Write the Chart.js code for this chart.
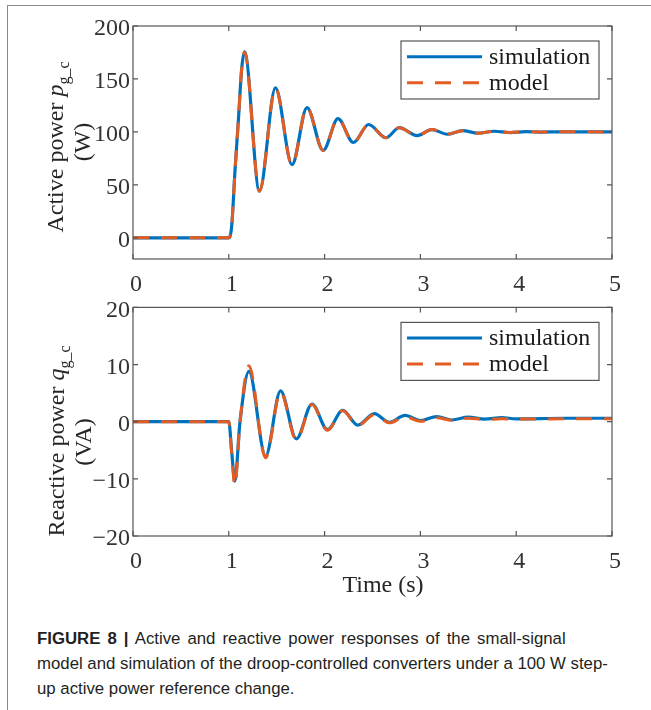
<!DOCTYPE html>
<html><head><meta charset="utf-8">
<script src="https://cdn.jsdelivr.net/npm/chart.js@4.4.0/dist/chart.umd.min.js"></script>
<style>
html,body{margin:0;padding:0;background:#fff;width:651px;height:710px;overflow:hidden;}
#frame{position:absolute;left:7px;top:5px;width:700px;height:800px;border-left:1.5px solid #8a8a8a;border-top:1.5px solid #8a8a8a;}
.cv{position:absolute;left:0;}
.lab{position:absolute;font-family:"Liberation Serif","Times New Roman",serif;font-size:24px;color:#262626;white-space:nowrap;line-height:1;}
.ylab{transform:translate(-50%,-50%) rotate(-90deg);}
.xlab{transform:translate(-50%,-50%);}
.lab sub{font-size:16px;vertical-align:-6px;line-height:0;}
#caption{position:absolute;left:37px;top:626px;font-family:"Liberation Sans",Arial,sans-serif;font-size:16.8px;line-height:25px;color:#231f20;white-space:nowrap;}
#caption .l1{word-spacing:2.4px;}
</style>
</head><body>
<div id="frame"></div>
<canvas id="c1" class="cv" width="651" height="300" style="top:0px"></canvas>
<canvas id="c2" class="cv" width="651" height="320" style="top:290px"></canvas>
<div class="lab ylab" style="left:55px;top:147px">Active power <i>p</i><sub>g_c</sub></div>
<div class="lab ylab" style="left:82px;top:142px">(W)</div>
<div class="lab ylab" style="left:56px;top:441px">Reactive power <i>q</i><sub>g_c</sub></div>
<div class="lab ylab" style="left:83px;top:442px">(VA)</div>
<div class="lab xlab" style="left:383px;top:584px">Time (s)</div>
<div id="caption"><span class="l1"><b>FIGURE 8 |</b> Active and reactive power responses of the small-signal</span><br>model and simulation of the droop-controlled converters under a 100 W step-<br>up active power reference change.</div>
<script>
// ---- data ----
const seriesLabels = ["simulation", "model"];
const xTicks = [0, 1, 2, 3, 4, 5];
const activeTicks = [0, 50, 100, 150, 200];
const reactiveTicks = [-20, -10, 0, 10, 20];

const activeTime = [0, 0.5, 1.0, 1.03, 1.065, 1.10, 1.135, 1.165, 1.32, 1.487, 1.66, 1.816, 1.985, 2.14, 2.30, 2.46, 2.64, 2.78, 2.965, 3.12, 3.28, 3.44, 3.60, 3.77, 3.94, 4.10, 4.27, 4.45, 5.0];
const activeSim   = [0, 0, 0, 11, 64, 111, 160, 175.5, 44, 141.5, 69, 123, 82.5, 112.5, 90, 107, 94.5, 104, 96.5, 102.2, 97.8, 101.2, 98.8, 100.6, 99.4, 100.3, 99.8, 100.1, 100];
const activeModel = [0, 0, 0, 11, 64, 111, 160, 175.5, 44, 141.5, 69, 123, 82.5, 112.5, 90, 107, 94.5, 104, 96.5, 102.2, 97.8, 101.2, 98.8, 100.6, 99.4, 100.3, 99.8, 100.1, 100];

const reactiveTime  = [0, 0.5, 1.0, 1.03, 1.063, 1.117, 1.21, 1.384, 1.54, 1.705, 1.869, 2.03, 2.19, 2.345, 2.52, 2.675, 2.84, 3.0, 3.17, 3.33, 3.5, 3.67, 3.85, 4.0, 4.5, 5.0];
const reactiveSim   = [0, 0, 0, -5.2, -10.4, 0, 8.8, -6.0, 5.4, -3.0, 3.1, -1.4, 2.0, -0.6, 1.4, -0.1, 1.1, 0.2, 0.9, 0.3, 0.8, 0.45, 0.7, 0.5, 0.6, 0.6];
const reactiveModel = [0, 0, 0, -5.6, -11.2, 0, 9.8, -6.3, 5.2, -3.2, 3.0, -1.5, 1.9, -0.7, 1.25, -0.2, 0.85, 0.06, 0.68, 0.25, 0.6, 0.4, 0.5, 0.45, 0.5, 0.5];

// ---- styles ----
const BLUE = "#0072BD", ORANGE = "#E35D22", AXIS = "#555555", TICKTXT = "#333333";
const SERIF = '"Liberation Serif","Times New Roman",serif';

function pts(xs, ys) { return xs.map((x, i) => ({ x: x, y: ys[i] })); }

const boxPlugin = {
  id: "matlabBox",
  afterDatasetsDraw(chart) {
    const ctx = chart.ctx, a = chart.chartArea;
    const xs = chart.scales.x, ys = chart.scales.y;
    ctx.save();
    ctx.strokeStyle = AXIS; ctx.lineWidth = 1.2;
    ctx.strokeRect(a.left, a.top, a.right - a.left, a.bottom - a.top);
    const L = 5;
    ctx.beginPath();
    xs.ticks.forEach(t => {
      const px = xs.getPixelForValue(t.value);
      ctx.moveTo(px, a.bottom); ctx.lineTo(px, a.bottom - L);
      ctx.moveTo(px, a.top); ctx.lineTo(px, a.top + L);
    });
    ys.ticks.forEach(t => {
      const py = ys.getPixelForValue(t.value);
      ctx.moveTo(a.left, py); ctx.lineTo(a.left + L, py);
      ctx.moveTo(a.right, py); ctx.lineTo(a.right - L, py);
    });
    ctx.stroke();
    // legend box (MATLAB style, inside upper right)
    const bw = 198, bh = 58;
    const bx = a.right - 13 - bw, by = a.top + 15;
    ctx.fillStyle = "#fff";
    ctx.fillRect(bx, by, bw, bh);
    ctx.strokeStyle = AXIS; ctx.lineWidth = 1.2;
    ctx.strokeRect(bx, by, bw, bh);
    chart.data.datasets.forEach((ds, i) => {
      const ly = by + 15.7 + 26 * i;
      ctx.beginPath();
      ctx.strokeStyle = ds.borderColor; ctx.lineWidth = 3;
      ctx.setLineDash(ds.borderDash || []);
      ctx.moveTo(bx + 6, ly); ctx.lineTo(bx + 81, ly);
      ctx.stroke();
      ctx.setLineDash([]);
      ctx.fillStyle = "#1a1a1a";
      ctx.font = "24px " + SERIF;
      ctx.textBaseline = "middle"; ctx.textAlign = "left";
      ctx.fillText(ds.label, bx + 88, ly + 1);
    });
    ctx.restore();
  }
};

function makeChart(id, sim, model, yMin, yMax, yTickVals, padTop, xHeight, fmt) {
  return new Chart(document.getElementById(id), {
    type: "line",
    data: {
      datasets: [
        { label: seriesLabels[0], data: sim, order: 2, borderColor: BLUE, borderWidth: 3.2, pointRadius: 0, fill: false, cubicInterpolationMode: "monotone" },
        { label: seriesLabels[1], data: model, order: 1, borderColor: ORANGE, borderWidth: 3, borderDash: [16, 12], pointRadius: 0, fill: false, cubicInterpolationMode: "monotone" }
      ]
    },
    options: {
      responsive: false, animation: false, devicePixelRatio: 1,
      layout: { padding: { top: padTop, right: 39, left: 0, bottom: 0 } },
      plugins: { legend: { display: false }, tooltip: { enabled: false } },
      scales: {
        x: {
          type: "linear", min: 0, max: 5,
          afterBuildTicks: s => { s.ticks = xTicks.map(v => ({ value: v })); },
          afterFit: s => { s.height = xHeight; },
          grid: { display: false, drawTicks: false }, border: { display: false },
          ticks: { font: { family: SERIF, size: 24 }, color: TICKTXT, padding: 11, labelOffset: 3, maxRotation: 0, autoSkip: false }
        },
        y: {
          type: "linear", min: yMin, max: yMax,
          afterBuildTicks: s => { s.ticks = yTickVals.map(v => ({ value: v })); },
          afterFit: s => { s.width = 133; },
          grid: { display: false, drawTicks: false }, border: { display: false },
          ticks: { font: { family: SERIF, size: 24 }, color: TICKTXT, padding: 3, labelOffset: 3, autoSkip: false, callback: fmt }
        }
      }
    },
    plugins: [boxPlugin]
  });
}

const minusFmt = v => (v < 0 ? "\u2212" + Math.abs(v) : String(v));
makeChart("c1", pts(activeTime, activeSim), pts(activeTime, activeModel), -20, 200, activeTicks, 26, 41, minusFmt);
makeChart("c2", pts(reactiveTime, reactiveSim), pts(reactiveTime, reactiveModel), -20, 20, reactiveTicks, 11, 74, minusFmt);
</script>
</body></html>
